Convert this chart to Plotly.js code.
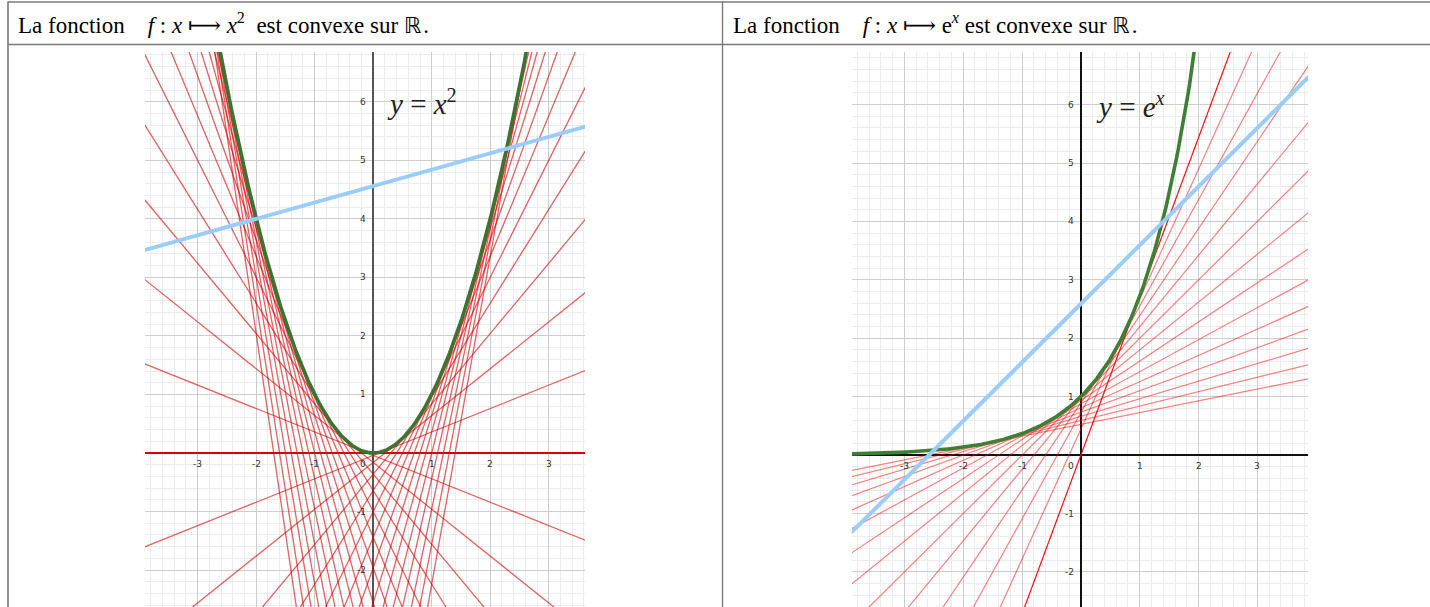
<!DOCTYPE html>
<html>
<head>
<meta charset="utf-8">
<script src="https://cdn.plot.ly/plotly-3.0.1.min.js"></script>
<style>
html,body{margin:0;padding:0;background:#fff;}
#chart{width:1430px;height:607px;}
</style>
</head>
<body>
<div id="chart"></div>
<script>
// ---------------- data ----------------
const RR = '<span style="font-family:DejaVu Sans, sans-serif;font-size:22px">\u211D</span>';
const headerLeft = "La fonction&nbsp;&nbsp;&nbsp;&nbsp;<i>f</i>&nbsp;:&nbsp;<i>x</i>&nbsp;\u27FC&nbsp;<i>x</i><sup>2</sup>&nbsp;&nbsp;est convexe sur " + RR + "&#8202;.";
const headerRight = "La fonction&nbsp;&nbsp;&nbsp;&nbsp;<i>f</i>&nbsp;:&nbsp;<i>x</i>&nbsp;\u27FC&nbsp;e<sup><i>x</i></sup>&nbsp;est convexe sur " + RR + "&#8202;.";
const curveLabelLeft = "<i>y</i> = <i>x</i><sup>2</sup>";
const curveLabelRight = "<i>y</i> = <i>e</i><sup><i>x</i></sup>";

// tangent points (abscissas) for the parabola
const tangentPointsLeft = [-3.4,-3.2,-3,-2.8,-2.6,-2.4,-2.2,-2,-1.8,-1.6,-1.4,-1.2,-1,-0.8,-0.6,-0.4,-0.2,
  0,0.2,0.4,0.6,0.8,1,1.2,1.4,1.6,1.8,2,2.2,2.4,2.6,2.8];
// tangent points (abscissas) for the exponential
const tangentPointsRight = [-1.6,-1.4,-1.2,-1,-0.8,-0.6,-0.4,-0.2,0,0.2,0.4,0.6,0.8,1];
// secant (chord) endpoints
const secantLeft = [-2, 2.28];
const secantRight = [-2.5, 1.38];

// axis windows
const xRangeLeft = [-3.9, 3.62], yRangeLeft = [-2.63, 6.85];
const xRangeRight = [-3.89, 3.86], yRangeRight = [-2.60, 6.90];

// tick labels
const xTicksLeft = [-3,-2,-1,1,2,3];
const yTicksLeft = [-2,-1,1,2,3,4,5,6];
const xTicksRight = [-3,-2,-1,1,2,3];
const yTicksRight = [-2,-1,1,2,3,4,5,6];

// ---------------- functions ----------------
const fSq = x => x*x, dSq = x => 2*x;
const fExp = x => Math.exp(x), dExp = x => Math.exp(x);

const W = 1430, H = 607;
const PX = v => v / W, PY = v => 1 - v / H;

function sampleCurve(f, r) {
  const xs = [], ys = [];
  const n = 400;
  for (let i = 0; i <= n; i++) { const x = r[0] + (r[1]-r[0])*i/n; xs.push(x); ys.push(f(x)); }
  return {xs, ys};
}
function tangentTrace(f, d, a, r, xa, ya, color, width) {
  const xs = [r[0]-1, r[1]+1];
  return {x: xs, y: xs.map(x => f(a) + d(a)*(x - a)), xaxis: xa, yaxis: ya, mode: 'lines',
    line: {color, width}, hoverinfo: 'skip', showlegend: false};
}
function secantTrace(f, pts, r, xa, ya) {
  const [p, q] = pts; const m = (f(q)-f(p))/(q-p);
  const xs = [r[0]-1, r[1]+1];
  return {x: xs, y: xs.map(x => f(p) + m*(x-p)), xaxis: xa, yaxis: ya, mode: 'lines',
    line: {color: '#99ccff', width: 4}, hoverinfo: 'skip', showlegend: false};
}

const traces = [];
tangentPointsLeft.forEach(a => traces.push(tangentTrace(fSq, dSq, a, xRangeLeft, 'x', 'y',
  a === 0 ? 'rgba(220,0,0,0.95)' : 'rgba(214,0,0,0.62)', a === 0 ? 1.6 : 1.3)));
const cL = sampleCurve(fSq, xRangeLeft);
traces.push({x: cL.xs, y: cL.ys, xaxis: 'x', yaxis: 'y', mode: 'lines', line: {color: '#3b7330', width: 3.6}, hoverinfo: 'skip', showlegend: false});
traces.push(secantTrace(fSq, secantLeft, xRangeLeft, 'x', 'y'));

tangentPointsRight.forEach(a => traces.push(tangentTrace(fExp, dExp, a, xRangeRight, 'x2', 'y2',
  a === 1 ? 'rgba(255,0,0,0.95)' : 'rgba(255,0,0,0.5)', 1.2)));
const cR = sampleCurve(fExp, xRangeRight);
traces.push({x: cR.xs, y: cR.ys, xaxis: 'x2', yaxis: 'y2', mode: 'lines', line: {color: '#3f7f35', width: 3.6}, hoverinfo: 'skip', showlegend: false});
traces.push(secantTrace(fExp, secantRight, xRangeRight, 'x2', 'y2'));

function axisCfg(domain, range, anchor, zc) {
  return {domain, range, anchor, showticklabels: false, ticks: '', showline: false,
    showgrid: true, gridcolor: '#cdcdcd', gridwidth: 1, dtick: 1, tick0: 0,
    minor: {dtick: 0.2, tick0: 0, showgrid: true, gridcolor: '#ececec', gridwidth: 1, ticks: ''},
    zeroline: true, zerolinecolor: zc, zerolinewidth: 1.5, fixedrange: true};
}

const tickFont = {family: 'DejaVu Sans, sans-serif', size: 9, color: '#333'};
const annotations = [];
function addTicks(xt, yt, xr, yr) {
  xt.forEach(v => annotations.push({x: v, y: 0, xref: xr, yref: yr, text: String(v), showarrow: false,
    xanchor: 'center', yanchor: 'middle', yshift: -11, font: tickFont}));
  annotations.push({x: 0, y: 0, xref: xr, yref: yr, text: '0', showarrow: false,
    xanchor: 'center', yanchor: 'middle', yshift: -11, xshift: -10, font: tickFont});
  yt.forEach(v => annotations.push({x: 0, y: v, xref: xr, yref: yr, text: String(v), showarrow: false,
    xanchor: 'right', yanchor: 'middle', xshift: -5, font: tickFont}));
}
addTicks(xTicksLeft, yTicksLeft, 'x', 'y');
addTicks(xTicksRight, yTicksRight, 'x2', 'y2');

const mathFont = {family: 'Liberation Serif, Times New Roman, serif', size: 29, color: '#222'};
annotations.push({x: 0.2, y: 6.0, xref: 'x', yref: 'y', text: curveLabelLeft, showarrow: false, xanchor: 'left', yanchor: 'middle', font: mathFont});
annotations.push({x: 0.22, y: 6.0, xref: 'x2', yref: 'y2', text: curveLabelRight, showarrow: false, xanchor: 'left', yanchor: 'middle', font: mathFont});

const headFont = {family: 'Liberation Serif, Times New Roman, DejaVu Serif, serif', size: 23, color: '#000'};
annotations.push({x: PX(16), y: PY(23), xref: 'paper', yref: 'paper', text: headerLeft, showarrow: false, xanchor: 'left', yanchor: 'middle', font: headFont});
annotations.push({x: PX(731), y: PY(23), xref: 'paper', yref: 'paper', text: headerRight, showarrow: false, xanchor: 'left', yanchor: 'middle', font: headFont});

const bc = '#7a7a7a';
const shapes = [
  {type: 'line', xref: 'paper', yref: 'paper', x0: PX(8), x1: PX(1432), y0: PY(2), y1: PY(2), line: {color: bc, width: 1.6}},
  {type: 'line', xref: 'paper', yref: 'paper', x0: PX(8), x1: PX(1432), y0: PY(44.5), y1: PY(44.5), line: {color: bc, width: 1.6}},
  {type: 'line', xref: 'paper', yref: 'paper', x0: PX(8), x1: PX(8), y0: PY(1.5), y1: PY(610), line: {color: bc, width: 1.6}},
  {type: 'line', xref: 'paper', yref: 'paper', x0: PX(722.5), x1: PX(722.5), y0: PY(1.5), y1: PY(610), line: {color: bc, width: 1.4}}
];

const layout = {
  width: W, height: H, margin: {l: 0, r: 0, t: 0, b: 0}, paper_bgcolor: '#fff', plot_bgcolor: '#fff',
  showlegend: false,
  // xaxis zeroline = vertical axis line, yaxis zeroline = horizontal axis line
  xaxis: axisCfg([PX(145), PX(585)], xRangeLeft, 'y', '#555'),
  yaxis: axisCfg([0, PY(52)], yRangeLeft, 'x', '#d40000'),
  xaxis2: axisCfg([PX(852), PX(1308)], xRangeRight, 'y2', '#111'),
  yaxis2: axisCfg([0, PY(52)], yRangeRight, 'x2', '#111'),
  annotations, shapes
};
Plotly.newPlot('chart', traces, layout, {staticPlot: true, displayModeBar: false});
</script>
</body>
</html>
